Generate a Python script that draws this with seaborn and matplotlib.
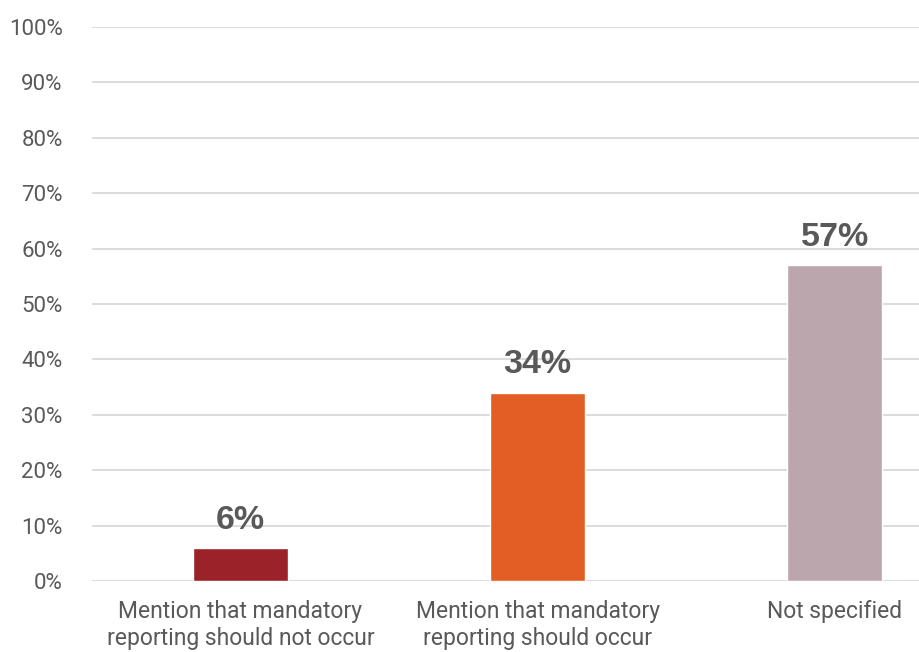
import matplotlib
matplotlib.use("Agg")
import matplotlib.pyplot as plt
import seaborn as sns
import pandas as pd

categories = [
    "Mention that mandatory\nreporting should not occur",
    "Mention that mandatory\nreporting should occur",
    "Not specified",
]
values = [6, 34, 57]
colors = ["#9B2229", "#E35E24", "#BCA6AD"]
yticks = list(range(0, 101, 10))

sns.set_theme(style="white")
plt.rcParams["font.family"] = ["Roboto", "DejaVu Sans"]

df = pd.DataFrame({"category": categories, "value": values})

fig = plt.figure(figsize=(9.19, 6.52), dpi=100)
ax = fig.add_axes([92 / 919, 1 - 581 / 652, 1 - 92 / 919, (581 - 27) / 652])

sns.barplot(data=df, x="category", y="value", hue="category", palette=colors,
            width=0.32, legend=False, ax=ax, saturation=1)

ax.set_ylim(0, 100)
ax.set_xlim(-0.5, 2.5 - (983 - 919) / 296)
ax.set_yticks(yticks)
ax.set_yticklabels([f"{t}%" for t in yticks])
ax.yaxis.grid(True, color="#D9D9D9", linewidth=1.3)
ax.set_axisbelow(True)
for s in ax.spines.values():
    s.set_visible(False)
ax.tick_params(axis="y", length=0, pad=21, labelsize=16, labelcolor="#595959")
ax.tick_params(axis="x", length=0, pad=14, labelsize=16.5, labelcolor="#595959")
ax.set_xlabel("")
ax.set_ylabel("")

for i, v in enumerate(values):
    ax.text(i, v + 2.2, f"{v}%", ha="center", va="bottom", fontsize=24.5,
            fontweight="bold", color="#595959",
            family=["Liberation Sans", "DejaVu Sans"])

fig.savefig("out.png", dpi=100)
